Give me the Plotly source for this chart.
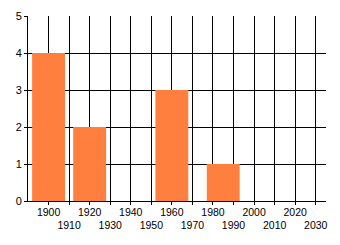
import plotly.graph_objects as go

years = [1900, 1920, 1960, 1985]
counts = [4, 2, 3, 1]
tick_years = list(range(1900, 2031, 10))
tick_labels = [str(y) if i % 2 == 0 else "<br>" + str(y) for i, y in enumerate(tick_years)]
y_ticks = [0, 1, 2, 3, 4, 5]

fig = go.Figure(go.Bar(x=years, y=counts, marker=dict(color="#FF7F3F", line=dict(width=0))))
fig.update_layout(
    width=340, height=245,
    margin=dict(l=28, r=14, t=16, b=44),
    paper_bgcolor="white", plot_bgcolor="white",
    font=dict(family="Liberation Sans, Arial", size=10.5, color="black"),
    bargap=0.2, showlegend=False,
)
fig.update_xaxes(
    range=[1890, 2035], tickvals=tick_years, ticktext=tick_labels, tickangle=0,
    showgrid=True, gridcolor="black", gridwidth=1, automargin=False,
    showline=True, linecolor="black", linewidth=1, ticklabelstandoff=-2,
    ticks="outside", ticklen=3, tickcolor="black", zeroline=False,
)
fig.update_yaxes(
    range=[0, 5], tickvals=y_ticks, automargin=False,
    tickfont=dict(size=11),
    showgrid=True, gridcolor="black", gridwidth=1,
    showline=True, linecolor="black", linewidth=1,
    ticks="outside", ticklen=3, tickcolor="black", zeroline=False,
)
fig.write_html("out.html")
